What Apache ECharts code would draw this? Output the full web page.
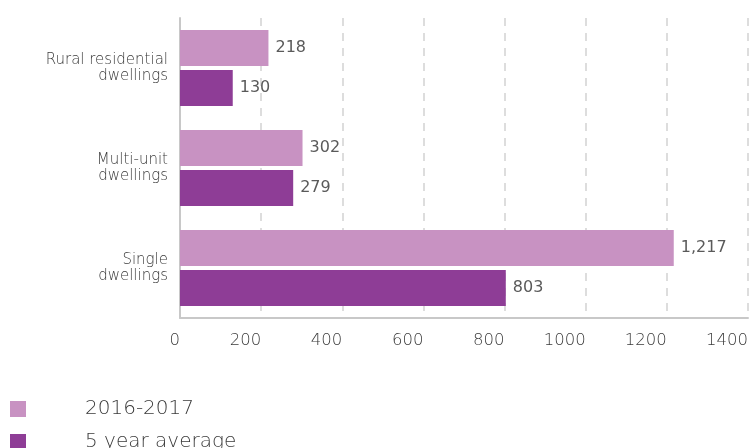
<!DOCTYPE html>
<html>
<head>
<meta charset="utf-8">
<script src="https://cdn.jsdelivr.net/npm/echarts@6/dist/echarts.min.js"></script>
<style>
  html, body { margin: 0; padding: 0; background: #fff; }
  #chart { width: 751px; height: 448px; }
</style>
</head>
<body>
<div id="chart"></div>
<script>
// Dwelling categories, top to bottom
const categories = ['Rural residential\ndwellings', 'Multi-unit\ndwellings', 'Single\ndwellings'];
// Series values
const current = [218, 302, 1217];
const fiveYearAvg = [130, 279, 803];
const seriesNames = ['2016-2017', '5 year average'];
// Value axis range
const axisMin = 0;
const axisMax = 1400;
const axisStep = 200;

const chart = echarts.init(document.getElementById('chart'), null, { renderer: 'canvas' });

const textFont = 'DejaVu Sans';
const textWeight = 200;
const labelColor = '#3a3a3a';

const valueLabel = {
  show: true,
  position: 'right',
  distance: 7,
  color: '#5a5a5a',
  fontFamily: textFont,
  fontWeight: 400,
  fontSize: 16,
  formatter: p => p.value.toLocaleString('en-US')
};

chart.setOption({
  animation: false,
  backgroundColor: '#fff',
  grid: { left: 180, right: 1, top: 18, bottom: 130, containLabel: false },
  xAxis: {
    type: 'value',
    min: axisMin,
    max: axisMax,
    interval: axisStep,
    axisLine: { show: true, lineStyle: { color: '#c8c8c8', width: 2 } },
    axisTick: { show: false },
    splitLine: { show: true, lineStyle: { color: '#d2d2d2', width: 1.5, type: [8, 7] } },
    axisLabel: {
      align: 'right',
      margin: 14,
      color: labelColor,
      fontFamily: textFont,
      fontWeight: textWeight,
      fontSize: 16.5,
      formatter: v => String(v)
    }
  },
  yAxis: {
    type: 'category',
    data: categories,
    inverse: true,
    axisLine: { show: true, lineStyle: { color: '#c8c8c8', width: 2 } },
    axisTick: { show: false },
    splitLine: { show: false },
    axisLabel: {
      margin: 12,
      align: 'right',
      color: labelColor,
      fontFamily: textFont,
      fontWeight: textWeight,
      fontSize: 15,
      lineHeight: 16
    }
  },
  legend: {
    orient: 'vertical',
    left: 10,
    top: 399,
    height: 60,
    padding: 0,
    itemWidth: 16,
    itemHeight: 16,
    itemGap: 13,
    icon: 'rect',
    selectedMode: false,
    textStyle: {
      color: '#3a3a3a',
      fontFamily: textFont,
      fontWeight: textWeight,
      fontSize: 20,
      lineHeight: 16,
      padding: [2, 0, 0, 54]
    },
    data: seriesNames
  },
  series: [
    {
      name: seriesNames[0],
      type: 'bar',
      data: current,
      barWidth: 36,
      barGap: '11%',
      barCategoryGap: '24%',
      itemStyle: { color: '#c892c2' },
      label: valueLabel
    },
    {
      name: seriesNames[1],
      type: 'bar',
      data: fiveYearAvg,
      barWidth: 36,
      barGap: '11%',
      itemStyle: { color: '#8e3d96' },
      label: valueLabel
    }
  ]
});
</script>
</body>
</html>
